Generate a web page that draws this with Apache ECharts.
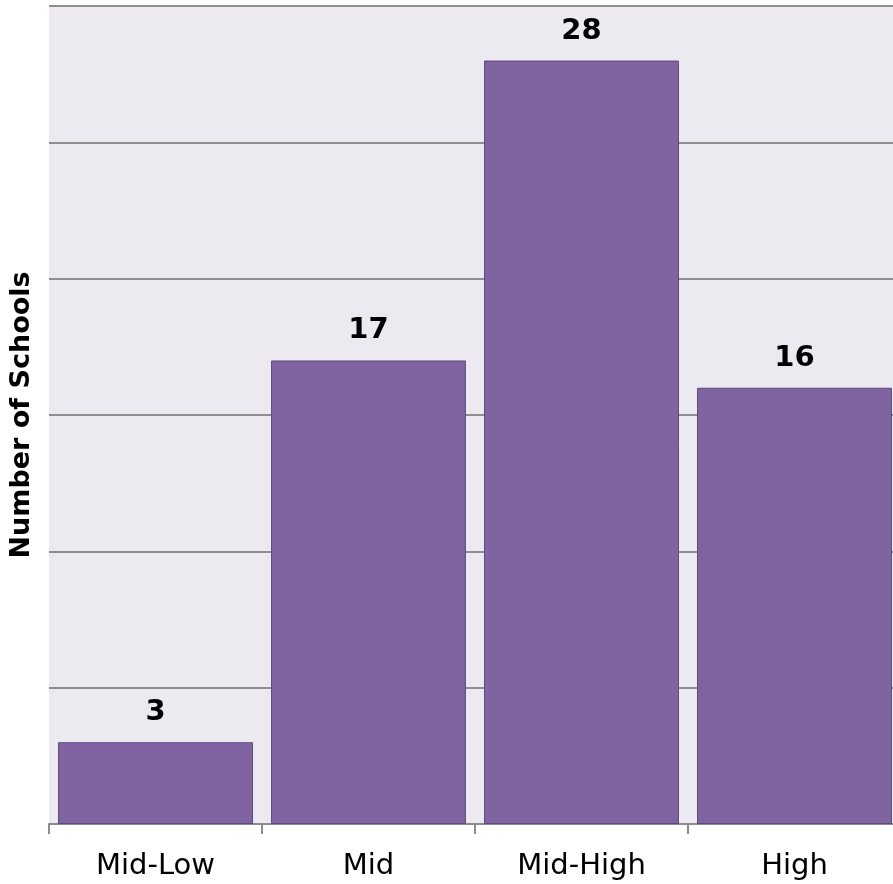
<!DOCTYPE html>
<html>
<head>
<meta charset="utf-8">
<script src="https://cdn.jsdelivr.net/npm/echarts@6/dist/echarts.min.js"></script>
<style>
  html, body { margin: 0; padding: 0; background: #ffffff; }
  #chart { width: 893px; height: 884px; }
</style>
</head>
<body>
<div id="chart"></div>
<script>
// School counts per performance band
const categories = ['Mid-Low', 'Mid', 'Mid-High', 'High'];
const schoolCounts = [3, 17, 28, 16];

const chart = echarts.init(document.getElementById('chart'));
chart.setOption({
  animation: false,
  grid: {
    left: 49, right: -8, top: 6, bottom: 60,
    outerBoundsMode: 'none',
    containLabel: false,
    show: true, backgroundColor: '#ECEAF0', borderWidth: 0
  },
  xAxis: {
    type: 'category',
    data: categories,
    axisLine: { lineStyle: { color: '#8c8c8c', width: 2 } },
    axisTick: { show: true, length: 10, lineStyle: { color: '#8c8c8c', width: 2 } },
    axisLabel: {
      margin: 28, color: '#000', fontSize: 29,
      fontFamily: 'DejaVu Sans'
    }
  },
  yAxis: {
    type: 'value',
    min: 0, max: 30, interval: 5,
    name: 'Number of Schools',
    nameLocation: 'middle',
    nameRotate: 90,
    nameGap: 14,
    nameTextStyle: { color: '#000', fontSize: 27, fontWeight: 'bold', fontFamily: 'DejaVu Sans' },
    axisLine: { show: false },
    axisTick: { show: false },
    axisLabel: { show: false },
    splitLine: { lineStyle: { color: '#8e8e8e', width: 2 } }
  },
  series: [{
    type: 'bar',
    data: schoolCounts,
    barCategoryGap: '8.5%',
    itemStyle: { color: '#8064A2', borderColor: '#5F4A7D', borderWidth: 1 },
    label: {
      show: true, position: 'top', distance: 15,
      color: '#000', fontSize: 29, fontWeight: 'bold', fontFamily: 'DejaVu Sans'
    }
  }]
});
</script>
</body>
</html>
